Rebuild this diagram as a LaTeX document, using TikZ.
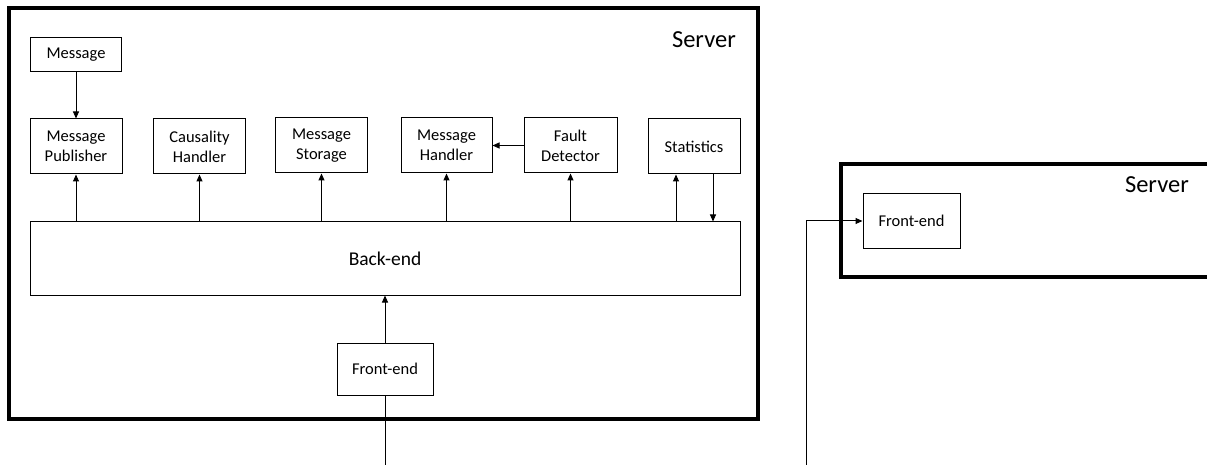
\documentclass[tikz,border=0pt]{standalone}
\usepackage{fontspec}
\setmainfont{Carlito}
\usetikzlibrary{arrows.meta}
\tikzset{
  box/.style={draw, line width=1pt, inner sep=0pt, align=center, font=\fontsize{16.5}{20}\selectfont},
  server/.style={draw, line width=4pt},
  conn/.style={line width=1pt, -{Triangle[length=7pt,width=6pt]}},
  plain/.style={line width=1pt},
  lbl/.style={font=\fontsize{24.5}{28}\selectfont, inner sep=0pt}
}
\begin{document}
\begin{tikzpicture}[x=1pt,y=-1pt]
\useasboundingbox (0,0) rectangle (1207,465);
% left server
\draw[server] (9,8) rectangle (758,419);
\node[lbl, anchor=east] (srvL) at (736,40) {Server};
\node[box, minimum width=91pt, minimum height=34pt] (msg) at (76,54.5) {Message};
\node[box, minimum width=92pt, minimum height=55pt] (mp) at (76,146.5) {Message\\Publisher};
\node[box, minimum width=92pt, minimum height=55pt] (ch) at (199.5,146.5) {Causality\\Handler};
\node[box, minimum width=92pt, minimum height=55pt] (ms) at (321.5,145.5) {Message\\Storage};
\node[box, minimum width=91pt, minimum height=55pt] (mh) at (446.5,145.5) {Message\\Handler};
\node[box, minimum width=93pt, minimum height=55pt] (fd) at (570.5,145.5) {Fault\\Detector};
\node[box, minimum width=92pt, minimum height=55pt] (st) at (694,146.5) {Statistics};
\node[box, minimum width=710pt, minimum height=73pt, font=\fontsize{19.5}{23}\selectfont] (be) at (385,258.5) {Back-end};
\node[box, minimum width=96pt, minimum height=52pt] (fe) at (385,369) {Front-end};
\coordinate (inL) at (385,465);
% right server
\draw[server] (841,164) rectangle (1215,277);
\node[lbl, anchor=east] (srvR) at (1189,185) {Server};
\node[box, minimum width=97pt, minimum height=54pt] (fe2) at (911.5,221) {Front-end};
\coordinate (inR) at (806,465);
% connectors
\draw[conn] (msg) -- (mp);
\draw[conn] (be.north -| mp) -- (mp);
\draw[conn] (be.north -| ch) -- (ch);
\draw[conn] (be.north -| ms) -- (ms);
\draw[conn] (be.north -| mh) -- (mh);
\draw[conn] (be.north -| fd) -- (fd);
\draw[conn] ([xshift=-18pt]st.south |- be.north) -- ([xshift=-18pt]st.south);
\draw[conn] ([xshift=19pt]st.south) -- ([xshift=19pt]st.south |- be.north);
\draw[conn] (fd) -- (mh);
\draw[conn] (fe) -- (be);
\draw[plain] (inL) -- (fe);
\draw[conn] (inR) |- (fe2);
\end{tikzpicture}
\end{document}
